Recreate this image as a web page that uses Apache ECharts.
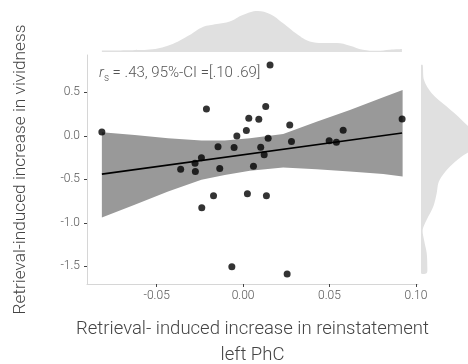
<!DOCTYPE html>
<html>
<head>
<meta charset="utf-8">
<script src="https://cdn.jsdelivr.net/npm/echarts@6/dist/echarts.min.js"></script>
<style>
  html, body { margin: 0; padding: 0; background: #fff; }
  #chart { width: 468px; height: 364px; }
</style>
</head>
<body>
<div id="chart"></div>
<script>
// scatter points
const pointX = [-0.0817, 0.0156, -0.0212, 0.0131, 0.0033, 0.0091, 0.0019, -0.0036, 0.0145, -0.0145,
  -0.0052, 0.0102, 0.0122, -0.0241, -0.0278, -0.0361, -0.0276, -0.0135, 0.006, -0.0171,
  0.0025, 0.0135, 0.027, 0.0579, 0.092, 0.028, 0.0498, 0.054, -0.0239, -0.0065, 0.0255]
const pointY = [0.046, 0.816, 0.31, 0.337, 0.203, 0.191, 0.061, 0.0, -0.027, -0.126,
  -0.134, -0.13, -0.218, -0.253, -0.314, -0.383, -0.41, -0.376, -0.349, -0.69,
  -0.667, -0.69, 0.126, 0.065, 0.195, -0.065, -0.057, -0.073, -0.828, -1.506, -1.59]

// fitted line and its confidence band
const fitX = [-0.0817, 0.092]
const fitY = [-0.44, 0.034]
const bandX = [-0.0817, -0.0627, -0.0434, -0.0241, -0.0106, 0.0039, 0.0232, 0.0425, 0.0618, 0.0811, 0.0923]
const bandUpper = [0.043, 0.011, -0.026, -0.054, -0.054, -0.026, 0.023, 0.164, 0.299, 0.445, 0.529]
const bandLower = [-0.939, -0.793, -0.64, -0.506, -0.45, -0.40, -0.364, -0.383, -0.41, -0.44, -0.468]

// marginal densities (heights in px of the strip)
const topDensX = [-0.0817, -0.0656, -0.054, -0.0424, -0.0309, -0.0233, -0.0152, -0.0077, -0.0002, 0.0085,
  0.0155, 0.023, 0.0311, 0.0386, 0.0461, 0.0542, 0.0618, 0.0693, 0.0774, 0.0849, 0.0919]
const topDensH = [1.5, 1.8, 2.5, 7, 17, 25, 28, 30.5, 37, 41,
  38, 29, 18, 10.5, 9, 9, 6.3, 2.3, 1.3, 2.3, 3]
const sideDensY = [0.816, 0.644, 0.491, 0.337, 0.184, 0.069, -0.046, -0.161, -0.238, -0.353,
  -0.468, -0.544, -0.659, -0.813, -0.966, -1.08, -1.195, -1.348, -1.502, -1.579]
const sideDensW = [1.7, 3, 10.7, 25.7, 40.7, 50, 53, 50, 40.7, 29,
  20.7, 17.3, 15.7, 12.3, 5.7, 1.7, 3, 5.7, 6.3, 5.7]

const xTicks = [-0.05, 0, 0.05, 0.1]
const xTickLabels = ['-0.05', '0.00', '0.05', '0.10']
const yTicks = [-1.5, -1, -0.5, 0, 0.5]
const yTickLabels = ['-1.5', '-1.0', '-0.5', '0.0', '0.5']

const xMin = -0.0903, xMax = 0.1012
const yMin = -1.705, yMax = 0.931
const font = 'Roboto'

function tickLabel(ticks, labels) {
  return function (v) {
    for (let i = 0; i < ticks.length; i++) {
      if (Math.abs(ticks[i] - v) < 1e-9) return labels[i]
    }
    return ''
  }
}

const chart = echarts.init(document.getElementById('chart'), null, { renderer: 'canvas' })

const option = {
  animation: false,
  backgroundColor: '#fff',
  grid: [
    { left: 87, top: 55, width: 331, height: 229, outerBoundsMode: 'none' },  // main
    { left: 87, top: 0, width: 331, height: 52, outerBoundsMode: 'none' },    // top density
    { left: 421, top: 55, width: 47, height: 229, outerBoundsMode: 'none' },  // side density
  ],
  xAxis: [
    {
      gridIndex: 0, type: 'value', min: xMin, max: xMax,
      name: 'Retrieval- induced increase in reinstatement\nleft PhC',
      nameLocation: 'middle', nameGap: 32,
      nameTextStyle: { fontFamily: font, fontWeight: 300, fontSize: 18.5, color: '#444', lineHeight: 26 },
      axisLine: { onZero: false, lineStyle: { color: '#d6d6d6', width: 1 } },
      axisTick: { customValues: xTicks, length: 3, lineStyle: { color: '#444' } },
      axisLabel: {
        customValues: xTicks, formatter: tickLabel(xTicks, xTickLabels),
        fontFamily: font, fontWeight: 300, fontSize: 12, color: '#555', margin: 6,
      },
      splitLine: { show: false },
    },
    { gridIndex: 1, type: 'value', min: xMin, max: xMax, show: false },
    { gridIndex: 2, type: 'value', min: 0, max: 47, show: false },
  ],
  yAxis: [
    {
      gridIndex: 0, type: 'value', min: yMin, max: yMax,
      name: 'Retrieval-induced increase in vividness',
      nameLocation: 'middle', nameGap: 58, nameRotate: 90,
      nameTextStyle: { fontFamily: font, fontWeight: 300, fontSize: 17.3, color: '#444' },
      axisLine: { show: true, onZero: false, lineStyle: { color: '#d6d6d6', width: 1 } },
      axisTick: { show: true, customValues: yTicks, length: 3, lineStyle: { color: '#444' } },
      axisLabel: {
        customValues: yTicks, formatter: tickLabel(yTicks, yTickLabels),
        fontFamily: font, fontWeight: 300, fontSize: 12, color: '#555', margin: 7,
      },
      splitLine: { show: false },
    },
    { gridIndex: 1, type: 'value', min: 0, max: 52, show: false },
    { gridIndex: 2, type: 'value', min: yMin, max: yMax, show: false },
  ],
  graphic: [
    {
      type: 'text', left: 99, top: 66,
      style: {
        text: '{r|r}{s|s}{n| = .43, 95%-CI =[.10 .69]}',
        rich: {
          r: { fontFamily: font, fontWeight: 300, fontStyle: 'italic', fontSize: 15, fill: '#555' },
          s: { fontFamily: font, fontWeight: 300, fontSize: 10, fill: '#555', padding: [9, 0, 0, 0] },
          n: { fontFamily: font, fontWeight: 300, fontSize: 15, fill: '#555' },
        },
      },
    },
  ],
  series: [
    {
      // confidence band
      type: 'custom', xAxisIndex: 0, yAxisIndex: 0, z: 1, clip: true,
      data: [0],
      renderItem: function (params, api) {
        const pts = []
        for (let i = 0; i < bandX.length; i++) pts.push(api.coord([bandX[i], bandUpper[i]]))
        for (let i = bandX.length - 1; i >= 0; i--) pts.push(api.coord([bandX[i], bandLower[i]]))
        return { type: 'polygon', shape: { points: pts }, style: { fill: '#999999' } }
      },
    },
    {
      type: 'line', xAxisIndex: 0, yAxisIndex: 0, z: 3,
      data: fitX.map((x, i) => [x, fitY[i]]),
      symbol: 'none', lineStyle: { color: '#000', width: 1.6 },
    },
    {
      type: 'scatter', xAxisIndex: 0, yAxisIndex: 0, z: 4,
      data: pointX.map((x, i) => [x, pointY[i]]),
      symbolSize: 7, itemStyle: { color: '#000' },
    },
    {
      // top marginal density
      type: 'line', xAxisIndex: 1, yAxisIndex: 1,
      data: topDensX.map((x, i) => [x, topDensH[i]]),
      smooth: 0.4, symbol: 'none',
      lineStyle: { width: 0 }, areaStyle: { color: '#e0e0e0', opacity: 1 },
    },
    {
      // side marginal density
      type: 'custom', xAxisIndex: 2, yAxisIndex: 2, clip: true,
      data: [0],
      renderItem: function (params, api) {
        const pts = [api.coord([0, sideDensY[0]])]
        for (let i = 0; i < sideDensY.length; i++) pts.push(api.coord([sideDensW[i], sideDensY[i]]))
        pts.push(api.coord([0, sideDensY[sideDensY.length - 1]]))
        return { type: 'polygon', shape: { points: pts, smooth: 0.3 }, style: { fill: '#e0e0e0' } }
      },
    },
  ],
}

chart.setOption(option)
</script>
</body>
</html>
